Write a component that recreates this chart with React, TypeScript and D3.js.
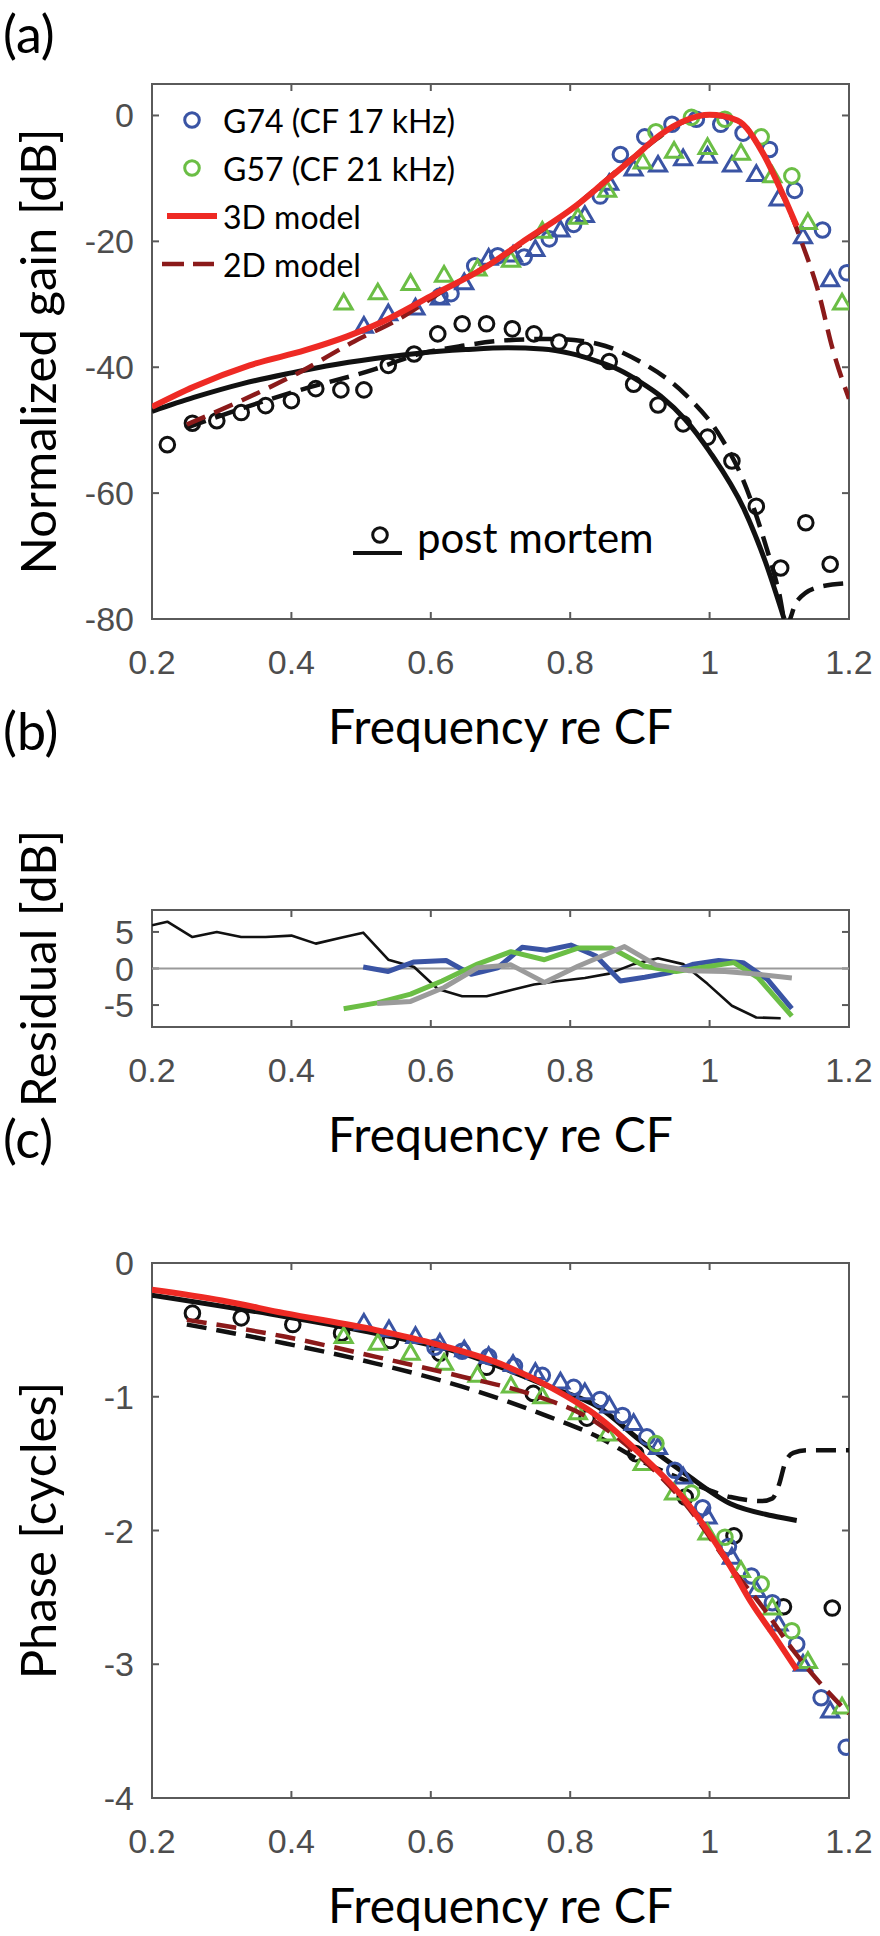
import React, { useEffect, useRef } from "react";
import * as d3 from "d3";

const W = 880;
const H = 1936;
const LEFT = 152;
const RIGHT = 849;

const BLUE = "#3a54a4";
const GREEN = "#6bbe45";
const RED = "#ee2a24";
const DARKRED = "#8b1a1a";
const GRAY = "#9b9b9b";
const BLACK = "#111111";
const AXIS = "#5a5a5a";
const TICKTXT = "#4d4d4d";

const LABEL_FONT = "Lato, 'Noto Sans', sans-serif";
const TICK_FONT = "'Liberation Sans', Arial, sans-serif";

const xTicks = [0.2, 0.4, 0.6, 0.8, 1, 1.2];
const xTickLabels = ["0.2", "0.4", "0.6", "0.8", "1", "1.2"];

// ---- (a) gain ----
const gainFreq3d = [0.2, 0.26, 0.34, 0.42, 0.48, 0.53, 0.6, 0.68, 0.73, 0.81, 0.85, 0.89, 0.93, 0.965, 1.0, 1.04, 1.075, 1.105, 1.125];
const gain3d = [-46.3, -43.1, -39.7, -37.3, -35.1, -32.8, -28.7, -24.0, -20.2, -14.2, -10.5, -6.8, -3.0, -0.8, 0.1, -0.8, -5.7, -12.5, -17.6];

const gainFreq2d = [0.25, 0.33, 0.41, 0.49, 0.555, 0.62, 0.7, 0.8, 0.9, 0.965, 1.0, 1.04, 1.075, 1.105, 1.13, 1.157, 1.176, 1.2];
const gain2d = [-49.1, -45.2, -40.9, -35.9, -32.3, -27.7, -22.6, -15.0, -5.8, -0.9, 0.1, -0.8, -5.7, -12.5, -19.5, -28.4, -36.9, -45];

const pmFreqSolid = [0.2, 0.26, 0.33, 0.4, 0.45, 0.52, 0.58, 0.65, 0.71, 0.76, 0.8, 0.84, 0.87, 0.9, 0.93, 0.965, 1.0, 1.05, 1.08, 1.107];
const pmGainSolid = [-47.0, -44.8, -42.6, -40.9, -39.8, -38.6, -37.8, -37.2, -36.9, -37.1, -37.8, -39.1, -40.4, -42.3, -44.6, -48.3, -53.4, -62.7, -70.9, -80];

const pmFreqDash = [0.25, 0.33, 0.41, 0.52, 0.58, 0.645, 0.71, 0.775, 0.84, 0.9, 0.965, 1.016, 1.048, 1.08, 1.1, 1.11, 1.125, 1.157, 1.2];
const pmGainDash = [-49.6, -46.5, -43.7, -40.3, -38.0, -36.6, -35.7, -35.5, -36.3, -39.1, -44.3, -51.1, -57.9, -68.1, -76.0, -81, -77.2, -74.9, -74.3];

const pmFreq = [0.222, 0.258, 0.293, 0.328, 0.363, 0.4, 0.435, 0.471, 0.504, 0.539, 0.576, 0.61, 0.645, 0.68, 0.717, 0.748, 0.784, 0.821, 0.856, 0.891, 0.926, 0.962, 0.997, 1.032, 1.067, 1.102, 1.138, 1.173];
const pmGain = [-52.3, -48.9, -48.5, -47.2, -46.1, -45.3, -43.4, -43.6, -43.6, -39.7, -37.9, -34.7, -33.1, -33.1, -33.9, -34.7, -36.0, -37.3, -39.1, -42.7, -46.0, -49.0, -51.1, -54.9, -62.1, -71.9, -64.7, -71.3];

const g74CircFreq = [0.613, 0.629, 0.663, 0.696, 0.734, 0.77, 0.805, 0.843, 0.872, 0.907, 0.946, 0.981, 1.016, 1.048, 1.086, 1.122, 1.162, 1.197];
const g74CircGain = [-28.7, -28.3, -23.9, -22.3, -22.5, -19.6, -17.3, -12.8, -6.2, -3.4, -1.4, -0.6, -1.4, -2.8, -5.4, -11.9, -18.2, -25.0];

const g74TriFreq = [0.504, 0.539, 0.578, 0.613, 0.648, 0.683, 0.718, 0.75, 0.786, 0.821, 0.856, 0.891, 0.926, 0.962, 0.997, 1.032, 1.067, 1.099, 1.134, 1.173];
const g74TriGain = [-33.5, -31.5, -30.6, -29.0, -26.6, -22.7, -22.2, -21.3, -18.2, -15.9, -10.8, -8.5, -7.9, -6.9, -6.5, -7.9, -9.4, -13.3, -19.3, -26.1];

const g57TriFreq = [0.475, 0.524, 0.571, 0.619, 0.667, 0.715, 0.76, 0.811, 0.853, 0.904, 0.949, 0.997, 1.045, 1.09, 1.141, 1.19];
const g57TriGain = [-29.8, -28.2, -26.7, -25.4, -24.4, -23.0, -18.4, -16.2, -11.9, -7.4, -5.7, -5.1, -6.0, -9.6, -17.0, -29.8];

const g57CircFreq = [0.923, 0.974, 1.022, 1.074, 1.118];
const g57CircGain = [-2.6, -0.3, -0.6, -3.4, -9.6];

// ---- (b) residual ----
const resFreqPM = [0.2, 0.222, 0.258, 0.293, 0.328, 0.363, 0.4, 0.435, 0.471, 0.503, 0.539, 0.576, 0.61, 0.645, 0.68, 0.717, 0.748, 0.784, 0.821, 0.856, 0.891, 0.926, 0.962, 0.997, 1.032, 1.067, 1.102];
const resPM = [5.9, 6.4, 4.3, 5.0, 4.3, 4.3, 4.5, 3.4, 4.2, 4.9, 1.2, 0.2, -2.8, -3.8, -3.8, -2.9, -2.2, -1.7, -1.3, -0.7, 0.6, 1.4, 0.6, -2.1, -5.1, -6.7, -6.8];

const resFreqG74 = [0.503, 0.539, 0.576, 0.622, 0.658, 0.696, 0.731, 0.766, 0.801, 0.837, 0.872, 0.907, 0.942, 0.977, 1.013, 1.048, 1.083, 1.118];
const resG74 = [0.2, -0.4, 0.9, 1.1, -0.8, 0.1, 2.9, 2.5, 3.2, 1.7, -1.7, -1.2, -0.6, 0.6, 1.1, 0.8, -1.5, -5.5];

const resFreqG57 = [0.475, 0.523, 0.571, 0.616, 0.667, 0.715, 0.763, 0.811, 0.859, 0.907, 0.952, 1.0, 1.035, 1.07, 1.118];
const resG57 = [-5.5, -4.7, -3.5, -1.7, 0.6, 2.3, 1.2, 2.8, 2.8, 0.3, -0.4, 0.3, 0.8, -1.3, -6.5];

const resFreqGray = [0.523, 0.571, 0.619, 0.667, 0.715, 0.763, 0.811, 0.878, 0.923, 0.971, 1.022, 1.07, 1.118];
const resGray = [-4.8, -4.5, -2.6, 0.1, 0.5, -1.9, 0.3, 3.0, 0.5, -0.3, -0.4, -0.8, -1.3];

// ---- (c) phase ----
const phFreq3d = [0.2, 0.3, 0.39, 0.52, 0.61, 0.71, 0.77, 0.84, 0.9, 0.965, 1.03, 1.06, 1.093, 1.125];
const phase3d = [-0.2, -0.28, -0.375, -0.5, -0.61, -0.775, -0.925, -1.15, -1.425, -1.775, -2.27, -2.54, -2.79, -3.04];

const phFreq2d = [0.25, 0.39, 0.52, 0.645, 0.74, 0.84, 0.9, 0.965, 1.03, 1.08, 1.112, 1.15, 1.2];
const phase2d = [-0.425, -0.55, -0.7, -0.85, -0.975, -1.2, -1.45, -1.8, -2.27, -2.6, -2.84, -3.09, -3.37];

const phFreqPMSolid = [0.2, 0.39, 0.52, 0.645, 0.77, 0.84, 0.9, 0.965, 1.03, 1.09, 1.125];
const phasePMSolid = [-0.24, -0.4, -0.525, -0.675, -0.925, -1.075, -1.325, -1.575, -1.8, -1.89, -1.925];

const phFreqPMDash = [0.25, 0.39, 0.52, 0.645, 0.77, 0.84, 0.9, 0.965, 1.03, 1.075, 1.09, 1.1, 1.108, 1.12, 1.14, 1.2];
const phasePMDash = [-0.46, -0.6, -0.75, -0.925, -1.15, -1.3, -1.475, -1.625, -1.75, -1.78, -1.76, -1.65, -1.5, -1.42, -1.4, -1.4];

const phFreqPM = [0.258, 0.328, 0.402, 0.472, 0.542, 0.613, 0.68, 0.747, 0.824, 0.894, 0.965, 1.035, 1.106, 1.176];
const phasePM = [-0.375, -0.41, -0.46, -0.525, -0.58, -0.675, -0.78, -0.975, -1.16, -1.425, -1.75, -2.04, -2.57, -2.58];

const phG74CircFreq = [0.606, 0.645, 0.683, 0.72, 0.76, 0.805, 0.843, 0.875, 0.91, 0.95, 0.99, 1.027, 1.06, 1.09, 1.125, 1.16, 1.196];
const phG74Circ = [-0.63, -0.66, -0.7, -0.77, -0.84, -0.93, -1.02, -1.14, -1.3, -1.55, -1.83, -2.12, -2.34, -2.54, -2.85, -3.25, -3.62];

const phG74TriFreq = [0.504, 0.54, 0.578, 0.613, 0.648, 0.683, 0.718, 0.75, 0.786, 0.821, 0.856, 0.891, 0.926, 0.962, 0.997, 1.032, 1.067, 1.099, 1.134, 1.173];
const phG74Tri = [-0.45, -0.5, -0.55, -0.6, -0.65, -0.7, -0.76, -0.82, -0.89, -0.97, -1.07, -1.2, -1.38, -1.6, -1.9, -2.2, -2.45, -2.7, -3.0, -3.35];

const phG57TriFreq = [0.475, 0.524, 0.571, 0.619, 0.667, 0.715, 0.76, 0.811, 0.853, 0.904, 0.949, 0.997, 1.045, 1.09, 1.141, 1.19];
const phG57Tri = [-0.55, -0.6, -0.675, -0.75, -0.84, -0.92, -1.0, -1.12, -1.28, -1.5, -1.72, -2.02, -2.3, -2.58, -2.98, -3.32];

const phG57CircFreq = [0.923, 0.974, 1.022, 1.074, 1.118];
const phG57Circ = [-1.35, -1.72, -2.05, -2.4, -2.75];

const gainTicks = [0, -20, -40, -60, -80];
const resTicks = [5, 0, -5];
const phaseTicks = [0, -1, -2, -3, -4];

function zip(xs: number[], ys: number[]) {
  return xs.map((v, i) => [v, ys[i]]);
}

function makePanel(svg, id, top, bottom, yDomain, yTicks, yLabel) {
  const x = d3.scaleLinear().domain([0.2, 1.2]).range([LEFT, RIGHT]);
  const y = d3.scaleLinear().domain(yDomain).range([bottom, top]);

  svg.append("clipPath").attr("id", id)
    .append("rect")
    .attr("x", LEFT).attr("y", top)
    .attr("width", RIGHT - LEFT).attr("height", bottom - top);

  const ax = svg.append("g").attr("stroke", AXIS).attr("stroke-width", 2);
  ax.append("rect")
    .attr("x", LEFT).attr("y", top)
    .attr("width", RIGHT - LEFT).attr("height", bottom - top)
    .attr("fill", "none");
  xTicks.forEach((v) => {
    ax.append("line").attr("x1", x(v)).attr("x2", x(v)).attr("y1", bottom).attr("y2", bottom - 7);
    ax.append("line").attr("x1", x(v)).attr("x2", x(v)).attr("y1", top).attr("y2", top + 7);
  });
  yTicks.forEach((v) => {
    ax.append("line").attr("x1", LEFT).attr("x2", LEFT + 7).attr("y1", y(v)).attr("y2", y(v));
    ax.append("line").attr("x1", RIGHT).attr("x2", RIGHT - 7).attr("y1", y(v)).attr("y2", y(v));
  });

  const tl = svg.append("g")
    .attr("font-family", TICK_FONT)
    .attr("font-size", 34)
    .attr("fill", TICKTXT);
  xTicks.forEach((v, i) => {
    tl.append("text")
      .attr("x", x(v)).attr("y", bottom + 43)
      .attr("text-anchor", "middle")
      .attr("dominant-baseline", "central")
      .text(xTickLabels[i]);
  });
  yTicks.forEach((v) => {
    tl.append("text")
      .attr("x", LEFT - 18).attr("y", y(v))
      .attr("text-anchor", "end")
      .attr("dominant-baseline", "central")
      .text(String(v));
  });

  svg.append("text")
    .attr("transform", `translate(37,${(top + bottom) / 2}) rotate(-90)`)
    .attr("text-anchor", "middle")
    .attr("dominant-baseline", "central")
    .attr("font-family", LABEL_FONT)
    .attr("font-size", 49)
    .attr("fill", "#000")
    .text(yLabel);

  svg.append("text")
    .attr("x", (LEFT + RIGHT) / 2).attr("y", bottom + 125)
    .attr("text-anchor", "middle")
    .attr("font-family", LABEL_FONT)
    .attr("font-size", 48)
    .attr("fill", "#000")
    .text("Frequency re CF");

  const plot = svg.append("g").attr("clip-path", `url(#${id})`);
  return { x, y, plot };
}

function drawLine(g, x, y, pts, color, width, dash = null, curve = d3.curveMonotoneX) {
  const line = d3.line().x((d) => x(d[0])).y((d) => y(d[1])).curve(curve);
  const p = g.append("path")
    .attr("d", line(pts))
    .attr("fill", "none")
    .attr("stroke", color)
    .attr("stroke-width", width)
    .attr("stroke-linejoin", "round");
  if (dash) p.attr("stroke-dasharray", dash);
  return p;
}

const triPath = d3.symbol().type(d3.symbolTriangle).size(125)();

function drawCircles(g, x, y, pts, color) {
  g.append("g").selectAll("circle").data(pts).join("circle")
    .attr("cx", (d) => x(d[0])).attr("cy", (d) => y(d[1]))
    .attr("r", 7.3)
    .attr("fill", "none").attr("stroke", color).attr("stroke-width", 3);
}

function drawTriangles(g, x, y, pts, color) {
  g.append("g").selectAll("path").data(pts).join("path")
    .attr("d", triPath)
    .attr("transform", (d) => `translate(${x(d[0])},${y(d[1]) + 1})`)
    .attr("fill", "none").attr("stroke", color).attr("stroke-width", 3)
    .attr("stroke-linejoin", "miter");
}

function panelLetter(svg, txt, yc) {
  svg.append("text")
    .attr("x", 3).attr("y", yc)
    .attr("dominant-baseline", "central")
    .attr("font-family", LABEL_FONT)
    .attr("font-size", 52)
    .attr("fill", "#000")
    .text(txt);
}

function draw(svg) {
  svg.append("rect").attr("width", W).attr("height", H).attr("fill", "#fff");

  // (a) gain
  panelLetter(svg, "(a)", 33);
  const a = makePanel(svg, "clipA", 84, 619, [-80, 5], gainTicks, "Normalized gain [dB]");
  drawLine(a.plot, a.x, a.y, zip(pmFreqSolid, pmGainSolid), BLACK, 5);
  drawLine(a.plot, a.x, a.y, zip(pmFreqDash, pmGainDash), BLACK, 4.5, "20 10");
  drawCircles(a.plot, a.x, a.y, zip(pmFreq, pmGain), BLACK);
  drawTriangles(a.plot, a.x, a.y, zip(g74TriFreq, g74TriGain), BLUE);
  drawCircles(a.plot, a.x, a.y, zip(g74CircFreq, g74CircGain), BLUE);
  drawTriangles(a.plot, a.x, a.y, zip(g57TriFreq, g57TriGain), GREEN);
  drawCircles(a.plot, a.x, a.y, zip(g57CircFreq, g57CircGain), GREEN);
  drawLine(a.plot, a.x, a.y, zip(gainFreq2d, gain2d), DARKRED, 4.5, "20 10");
  drawLine(a.plot, a.x, a.y, zip(gainFreq3d, gain3d), RED, 6);

  // legend
  const lg = svg.append("g").attr("font-family", LABEL_FONT).attr("font-size", 32).attr("fill", "#000");
  const legendRows = [
    { y: 120, label: "G74 (CF 17 kHz)", kind: "circle", color: BLUE },
    { y: 168, label: "G57 (CF 21 kHz)", kind: "circle", color: GREEN },
    { y: 216, label: "3D model", kind: "solid", color: RED },
    { y: 264, label: "2D model", kind: "dash", color: DARKRED },
  ];
  legendRows.forEach((r) => {
    if (r.kind === "circle") {
      lg.append("circle").attr("cx", 192).attr("cy", r.y).attr("r", 7.3)
        .attr("fill", "none").attr("stroke", r.color).attr("stroke-width", 3);
    } else if (r.kind === "solid") {
      lg.append("line").attr("x1", 167).attr("x2", 217).attr("y1", r.y).attr("y2", r.y)
        .attr("stroke", r.color).attr("stroke-width", 6);
    } else {
      lg.append("line").attr("x1", 162).attr("x2", 214).attr("y1", r.y).attr("y2", r.y)
        .attr("stroke", r.color).attr("stroke-width", 4.5).attr("stroke-dasharray", "22 9");
    }
    lg.append("text").attr("x", 223).attr("y", r.y)
      .attr("dominant-baseline", "central").text(r.label);
  });
  svg.append("circle").attr("cx", 380).attr("cy", 535).attr("r", 7.3)
    .attr("fill", "none").attr("stroke", BLACK).attr("stroke-width", 3);
  svg.append("line").attr("x1", 353).attr("x2", 402).attr("y1", 553).attr("y2", 553)
    .attr("stroke", BLACK).attr("stroke-width", 4);
  svg.append("text").attr("x", 417).attr("y", 553)
    .attr("font-family", LABEL_FONT).attr("font-size", 42).attr("fill", "#000")
    .text("post mortem");

  // (b) residual
  panelLetter(svg, "(b)", 730);
  const b = makePanel(svg, "clipB", 910, 1027, [-8, 8], resTicks, "Residual [dB]");
  b.plot.append("line")
    .attr("x1", LEFT).attr("x2", RIGHT).attr("y1", b.y(0)).attr("y2", b.y(0))
    .attr("stroke", "#9a9a9a").attr("stroke-width", 2);
  drawLine(b.plot, b.x, b.y, zip(resFreqPM, resPM), BLACK, 2.6, null, d3.curveLinear);
  drawLine(b.plot, b.x, b.y, zip(resFreqG74, resG74), BLUE, 5, null, d3.curveLinear);
  drawLine(b.plot, b.x, b.y, zip(resFreqG57, resG57), GREEN, 5, null, d3.curveLinear);
  drawLine(b.plot, b.x, b.y, zip(resFreqGray, resGray), GRAY, 5, null, d3.curveLinear);

  // (c) phase
  panelLetter(svg, "(c)", 1138);
  const c = makePanel(svg, "clipC", 1263, 1798, [-4, 0], phaseTicks, "Phase [cycles]");
  drawLine(c.plot, c.x, c.y, zip(phFreqPMSolid, phasePMSolid), BLACK, 5);
  drawLine(c.plot, c.x, c.y, zip(phFreqPMDash, phasePMDash), BLACK, 4.5, "20 10");
  drawCircles(c.plot, c.x, c.y, zip(phFreqPM, phasePM), BLACK);
  drawTriangles(c.plot, c.x, c.y, zip(phG74TriFreq, phG74Tri), BLUE);
  drawCircles(c.plot, c.x, c.y, zip(phG74CircFreq, phG74Circ), BLUE);
  drawTriangles(c.plot, c.x, c.y, zip(phG57TriFreq, phG57Tri), GREEN);
  drawCircles(c.plot, c.x, c.y, zip(phG57CircFreq, phG57Circ), GREEN);
  drawLine(c.plot, c.x, c.y, zip(phFreq2d, phase2d), DARKRED, 4.5, "20 10");
  drawLine(c.plot, c.x, c.y, zip(phFreq3d, phase3d), RED, 6);
}

export default function App() {
  const ref = useRef<SVGSVGElement>(null);

  useEffect(() => {
    if (!ref.current) return;
    const svg = d3.select(ref.current);
    svg.selectAll("*").remove();
    draw(svg);
  }, []);

  return (
    <svg
      ref={ref}
      width={W}
      height={H}
      viewBox={`0 0 ${W} ${H}`}
      style={{ position: "absolute", left: 0, top: 0, display: "block" }}
    />
  );
}
